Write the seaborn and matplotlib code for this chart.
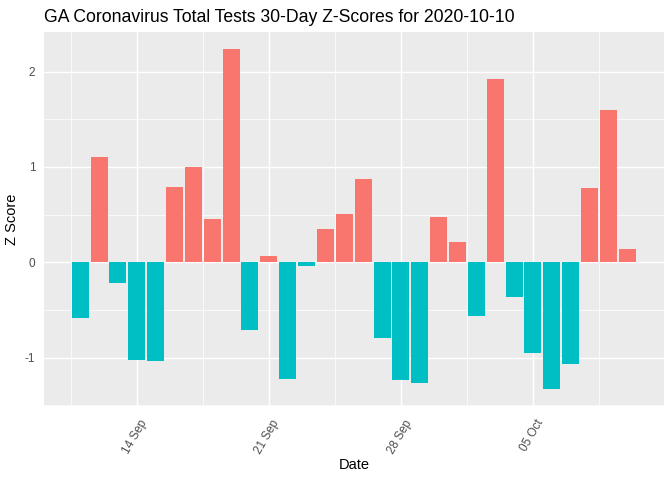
import matplotlib
matplotlib.use("Agg")
import matplotlib.pyplot as plt
import matplotlib.dates as mdates
import matplotlib.transforms as mtransforms
from matplotlib.ticker import MultipleLocator, FixedLocator, FuncFormatter
import pandas as pd
import seaborn as sns
import datetime as dt

# ---- data ----
start_date = "2020-09-11"
z_scores = [-0.59, 1.10, -0.22, -1.03, -1.04, 0.79, 1.00, 0.45, 2.24, -0.71,
            0.07, -1.23, -0.04, 0.35, 0.51, 0.87, -0.80, -1.24, -1.27, 0.47,
            0.21, -0.56, 1.92, -0.37, -0.95, -1.33, -1.07, 0.78, 1.60, 0.14]
title = "GA Coronavirus Total Tests 30-Day Z-Scores for 2020-10-10"
x_label = "Date"
y_label = "Z Score"
pos_color = "#F8766D"
neg_color = "#00BFC4"

dates = pd.date_range(start_date, periods=len(z_scores), freq="D")
df = pd.DataFrame({
    "date": mdates.date2num(dates.to_pydatetime()),
    "z": z_scores,
    "sign": ["pos" if v > 0 else "neg" for v in z_scores],
})

sns.set_theme(style="darkgrid")
plt.rcParams["font.family"] = ["Liberation Sans", "DejaVu Sans"]

fig = plt.figure(figsize=(7, 5), dpi=96)
ax = fig.add_axes([43.5 / 672, 1 - 406 / 480, (664 - 43.5) / 672, (406 - 31.7) / 480])
ax.set_facecolor("#EBEBEB")

sns.barplot(data=df, x="date", y="z", hue="sign", native_scale=True,
            palette={"pos": pos_color, "neg": neg_color}, width=0.9,
            dodge=False, legend=False, saturation=1, linewidth=0,
            edgecolor="none", ax=ax, zorder=3)

# limits like ggplot expansion
xmin = df["date"].min() - 0.45
xmax = df["date"].max() + 0.45
xr = xmax - xmin
ax.set_xlim(xmin - 0.05 * xr, xmax + 0.05 * xr)
ymin, ymax = min(z_scores), max(z_scores)
yr = ymax - ymin
ax.set_ylim(ymin - 0.05 * yr, ymax + 0.05 * yr)

ax.xaxis.set_major_locator(mdates.WeekdayLocator(byweekday=mdates.MO))
ax.xaxis.set_major_formatter(mdates.DateFormatter("%d %b"))
mondays = mdates.date2num([dt.datetime(2020, 9, 7), dt.datetime(2020, 9, 14),
                           dt.datetime(2020, 9, 21), dt.datetime(2020, 9, 28),
                           dt.datetime(2020, 10, 5)])
ax.xaxis.set_minor_locator(FixedLocator([d + 3.5 for d in mondays]))
ax.yaxis.set_major_locator(MultipleLocator(1))
ax.yaxis.set_minor_locator(MultipleLocator(0.5))
ax.yaxis.set_major_formatter(FuncFormatter(lambda v, p: f"{int(round(v))}"))

ax.grid(which="major", color="white", linewidth=1.07, zorder=0)
ax.grid(which="minor", color="white", linewidth=0.53, zorder=0)
ax.set_axisbelow(True)
for s in ax.spines.values():
    s.set_visible(False)

ax.tick_params(axis="both", which="major", length=3.7, width=0.8, color="#333333",
               labelcolor="#4D4D4D", labelsize=8.8, pad=2.5)
ax.tick_params(axis="both", which="minor", length=0)
ax.tick_params(axis="x", which="major", pad=3)
offset = mtransforms.ScaledTranslation(8 / 96, -6 / 96, fig.dpi_scale_trans)
for lab in ax.get_xticklabels():
    lab.set_rotation(60)
    lab.set_ha("right")
    lab.set_va("center")
    lab.set_rotation_mode("anchor")
    lab.set_transform(lab.get_transform() + offset)

ax.set_xlabel(x_label, fontsize=11, color="black", labelpad=1)
ax.set_ylabel(y_label, fontsize=11, color="black", labelpad=4)
fig.text(43.5 / 672, 1 - 22 / 480, title, fontsize=13.2, color="black", ha="left", va="baseline")

fig.savefig("out.png", dpi=96)
